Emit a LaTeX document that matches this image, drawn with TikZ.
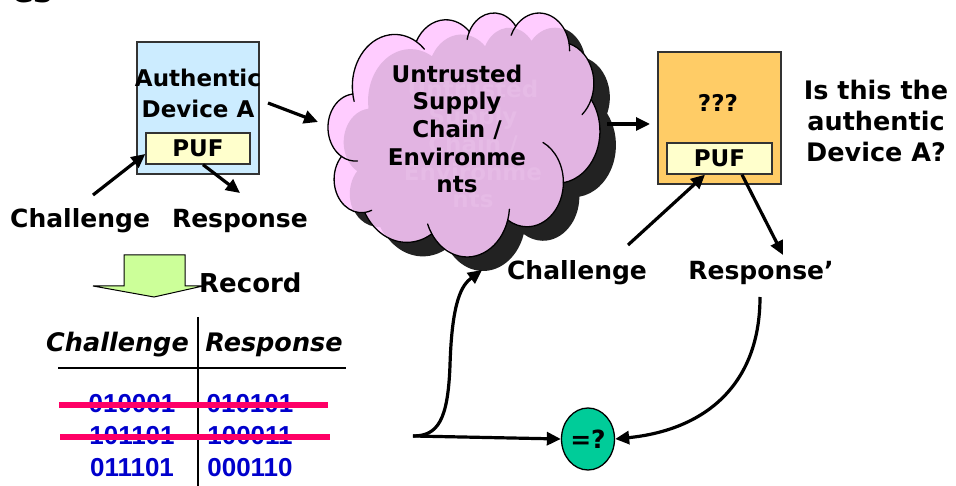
\documentclass[tikz,border=0pt]{standalone}
\usepackage{fontspec}
\setmainfont{DejaVu Sans}
\newfontfamily\arialf{Liberation Sans}
\usetikzlibrary{arrows.meta,shapes.geometric}
\definecolor{devblue}{HTML}{CCECFF}
\definecolor{pufyellow}{HTML}{FFFFCC}
\definecolor{devorange}{HTML}{FFCC66}
\definecolor{cloudpink}{HTML}{E2B4E2}
\definecolor{cloudlight}{HTML}{FFCCFF}
\definecolor{ghostpink}{HTML}{E6BBE6}
\definecolor{shadowgray}{HTML}{222222}
\definecolor{recgreen}{HTML}{CCFF99}
\definecolor{numblue}{HTML}{0000CC}
\definecolor{strikepink}{HTML}{FF0066}
\definecolor{eqgreen}{HTML}{00CC99}
\definecolor{edgegray}{HTML}{333333}
\def\cloudpath{(39.00,143.70)
 arc[start angle=172.25,end angle=300.36,x radius=67.53,y radius=91.90]
 arc[start angle=207.98,end angle=314.53,x radius=53.33,y radius=72.67]
 arc[start angle=206.51,end angle=322.68,x radius=43.65,y radius=59.45]
 arc[start angle=220.28,end angle=349.79,x radius=48.57,y radius=65.95]
 arc[start angle=-74.76,end angle=23.21,x radius=53.33,y radius=72.73]
 arc[start angle=-37.53,end angle=81.86,x radius=67.75,y radius=92.20]
 arc[start angle=0.46,end angle=121.99,x radius=57.85,y radius=78.67]
 arc[start angle=16.84,end angle=146.23,x radius=67.52,y radius=92.15]
 arc[start angle=59.00,end angle=150.18,x radius=77.20,y radius=105.43]
 arc[start angle=83.30,end angle=223.11,x radius=43.60,y radius=59.18]
 arc[start angle=120.36,end angle=264.11,x radius=43.45,y radius=59.45] -- cycle}
\def\cloudinner{
 (43.09,204.19) ++(85.54:43.45 and 59.45) arc[start angle=85.54,end angle=120.36,x radius=43.45,y radius=59.45]
 (52.96,295.92) ++(68.27:43.60 and 59.18) arc[start angle=68.27,end angle=83.30,x radius=43.60,y radius=59.18]
 (220.91,341.41) ++(146.23:67.52 and 92.15) arc[start angle=146.23,end angle=158.47,x radius=67.52,y radius=92.15]
 (220.91,341.41) ++(4.74:67.52 and 92.15) arc[start angle=4.74,end angle=16.84,x radius=67.52,y radius=92.15]
 (316.18,301.39) ++(-64.00:57.85 and 78.67) arc[start angle=-64.00,end angle=0.46,x radius=57.85,y radius=78.67]
 (369.15,125.92) ++(23.21:53.33 and 72.73) arc[start angle=23.21,end angle=49.65,x radius=53.33,y radius=72.73]
 (335.37,67.44) ++(-10.21:48.57 and 65.95) arc[start angle=-10.21,end angle=0.82,x radius=48.57,y radius=65.95]
 (335.37,67.44) ++(203.73:48.57 and 65.95) arc[start angle=203.73,end angle=220.28,x radius=48.57,y radius=65.95]
 (263.61,60.84) ++(192.28:43.65 and 59.45) arc[start angle=192.28,end angle=206.51,x radius=43.65,y radius=59.45]
 (105.91,131.30) ++(300.36:67.53 and 91.90) arc[start angle=300.36,end angle=314.28,x radius=67.53,y radius=91.90]
 (105.91,131.30) ++(163.18:67.53 and 91.90) arc[start angle=163.18,end angle=172.25,x radius=67.53,y radius=91.90]}
\begin{document}
\begin{tikzpicture}[x=1pt,y=-1pt,
  arr/.style={line width=3.2pt,-{Triangle[length=14pt,width=13pt]}},
  lbl/.style={font=\fontsize{25}{30}\selectfont\bfseries,inner sep=0pt},
  boxtxt/.style={font=\fontsize{23}{31}\selectfont\bfseries,inner sep=0pt,align=center},
  devbox/.style={draw=edgegray,line width=1.3pt,minimum width=122pt,minimum height=132pt,inner sep=0pt},
  pufbox/.style={draw=edgegray,line width=1.3pt,fill=pufyellow,minimum width=104pt,minimum height=31pt,inner sep=0pt,font=\fontsize{23}{28}\selectfont\bfseries},
  cloudtext/.style={font=\fontsize{23}{27.7}\selectfont\bfseries,align=center,inner sep=0pt},
  numtxt/.style={font=\arialf\fontsize{26}{30}\selectfont\bfseries,text=numblue,inner sep=0pt},
  hdrtxt/.style={font=\fontsize{25.5}{30}\selectfont\bfseries\itshape,inner sep=0pt},
  strike/.style={draw=strikepink,line width=5.5pt},
  tblline/.style={line width=1.3pt}]
\useasboundingbox (0,0) rectangle (956,486);

% clipped title fragment at top edge
\begin{scope}
\clip (0,0) rectangle (956,4);
\node[anchor=base west,font=\fontsize{32}{36}\selectfont\bfseries,inner sep=0pt] (frag) at (12,2.5) {es};
\end{scope}

% Authentic device A
\node[devbox,fill=devblue] (devA) at (198,108) {};
\node[boxtxt] (devAtxt) at (198,93) {Authentic\\Device A};
\node[pufbox] (puf1) at (198,148.5) {PUF};

% labels under device A
\node[lbl,anchor=west] (chal1) at (10,221) {Challenge};
\node[lbl,anchor=east] (resp1) at (308,221) {Response};
\coordinate (c1s) at (93,195);
\coordinate (r1e) at (240,193);
\draw[arr] (c1s) -- ([yshift=-5.5pt]puf1.west);
\draw[arr] ([xshift=5pt]puf1.south) -- (r1e);

% cloud: shadow
\begin{scope}[shift={(344.2,26.2)},x=0.6288pt,y=-0.5646pt]
\fill[shadowgray] \cloudpath;
\end{scope}
% cloud: body
\begin{scope}[shift={(328.2,12.2)},x=0.6288pt,y=-0.5646pt]
\fill[cloudlight] \cloudpath;
\begin{scope}
\clip \cloudpath;
\fill[cloudpink,shift={(25,26)}] \cloudpath;
\end{scope}
\draw[line width=1.3pt,line join=round] \cloudpath;
\draw[line width=1.3pt,line cap=round] \cloudinner;
\end{scope}
\node[cloudtext,text=ghostpink] (ghost) at (473,144) {Untrusted\\Supply\\Chain /\\Environme\\nts};
\node[cloudtext] (cloudtxt) at (457,129) {Untrusted\\Supply\\Chain /\\Environme\\nts};

\coordinate (dA) at (268,103);
\coordinate (cIn) at (318,122);
\draw[arr] (dA) -- (cIn);

% unknown device
\node[devbox,fill=devorange,minimum width=123pt] (devB) at (719.5,118) {};
\node[font=\fontsize{23}{28}\selectfont\bfseries,inner sep=0pt] (qqq) at (718,103) {???};
\node[pufbox,minimum width=105pt] (puf2) at (719.5,158.5) {PUF};
\coordinate (cOut) at (607,124);
\coordinate (bIn) at (650,124);
\draw[arr] (cOut) -- (bIn);

\node[boxtxt,font=\fontsize{25.5}{31}\selectfont\bfseries] (question) at (876,121) {Is this the\\authentic\\Device A?};

\node[lbl] (chal2) at (577,273) {Challenge};
\node[lbl] (resp2) at (761,273) {Response'};
\coordinate (c2s) at (628,245);
\coordinate (r2e) at (783,255);
\draw[arr] (c2s) -- ([xshift=-14.5pt]puf2.south);
\draw[arr] ([xshift=22.5pt]puf2.south) -- (r2e);

% record arrow
\draw[draw=black,line width=1pt,fill=recgreen] (124,255) -- (185,255) -- (185,286) -- (203,286) -- (154,297) -- (93,286) -- (124,286) -- cycle;
\node[lbl,font=\fontsize{26}{30}\selectfont\bfseries,anchor=west] (record) at (199,283) {Record};

% table
\draw[tblline] (198,317) -- (198,486);
\draw[tblline] (58,368) -- (346,368);
\node[hdrtxt] (hc) at (117.5,345) {Challenge};
\node[hdrtxt] (hr) at (274,345) {Response};
\node[numtxt] (n11) at (132,404) {010001};
\node[numtxt] (n12) at (250,404) {010101};
\node[numtxt] (n21) at (132,436) {101101};
\node[numtxt] (n22) at (250,436) {100011};
\node[numtxt] (n31) at (132,468) {011101};
\node[numtxt] (n32) at (250,468) {000110};
\draw[strike] (59,405) -- (328,405);
\draw[strike] (60,437) -- (330,437);

% comparison
\node[ellipse,draw=black,line width=1.3pt,fill=eqgreen,minimum width=53pt,minimum height=62pt,inner sep=0pt,font=\fontsize{25}{30}\selectfont\bfseries] (eq) at (588,439) {=?};
\coordinate (split) at (413,436);
\coordinate (cBot) at (482,270);
\coordinate (r2s) at (760,297);
\draw[arr] (split) .. controls (438,436) and (448,420) .. (450,365) .. controls (452,300) and (462,285) .. (cBot);
\draw[arr] (split) -- (eq.west);
\draw[arr] (r2s) .. controls (760,385) and (705,430) .. (eq.east);
\end{tikzpicture}
\end{document}
